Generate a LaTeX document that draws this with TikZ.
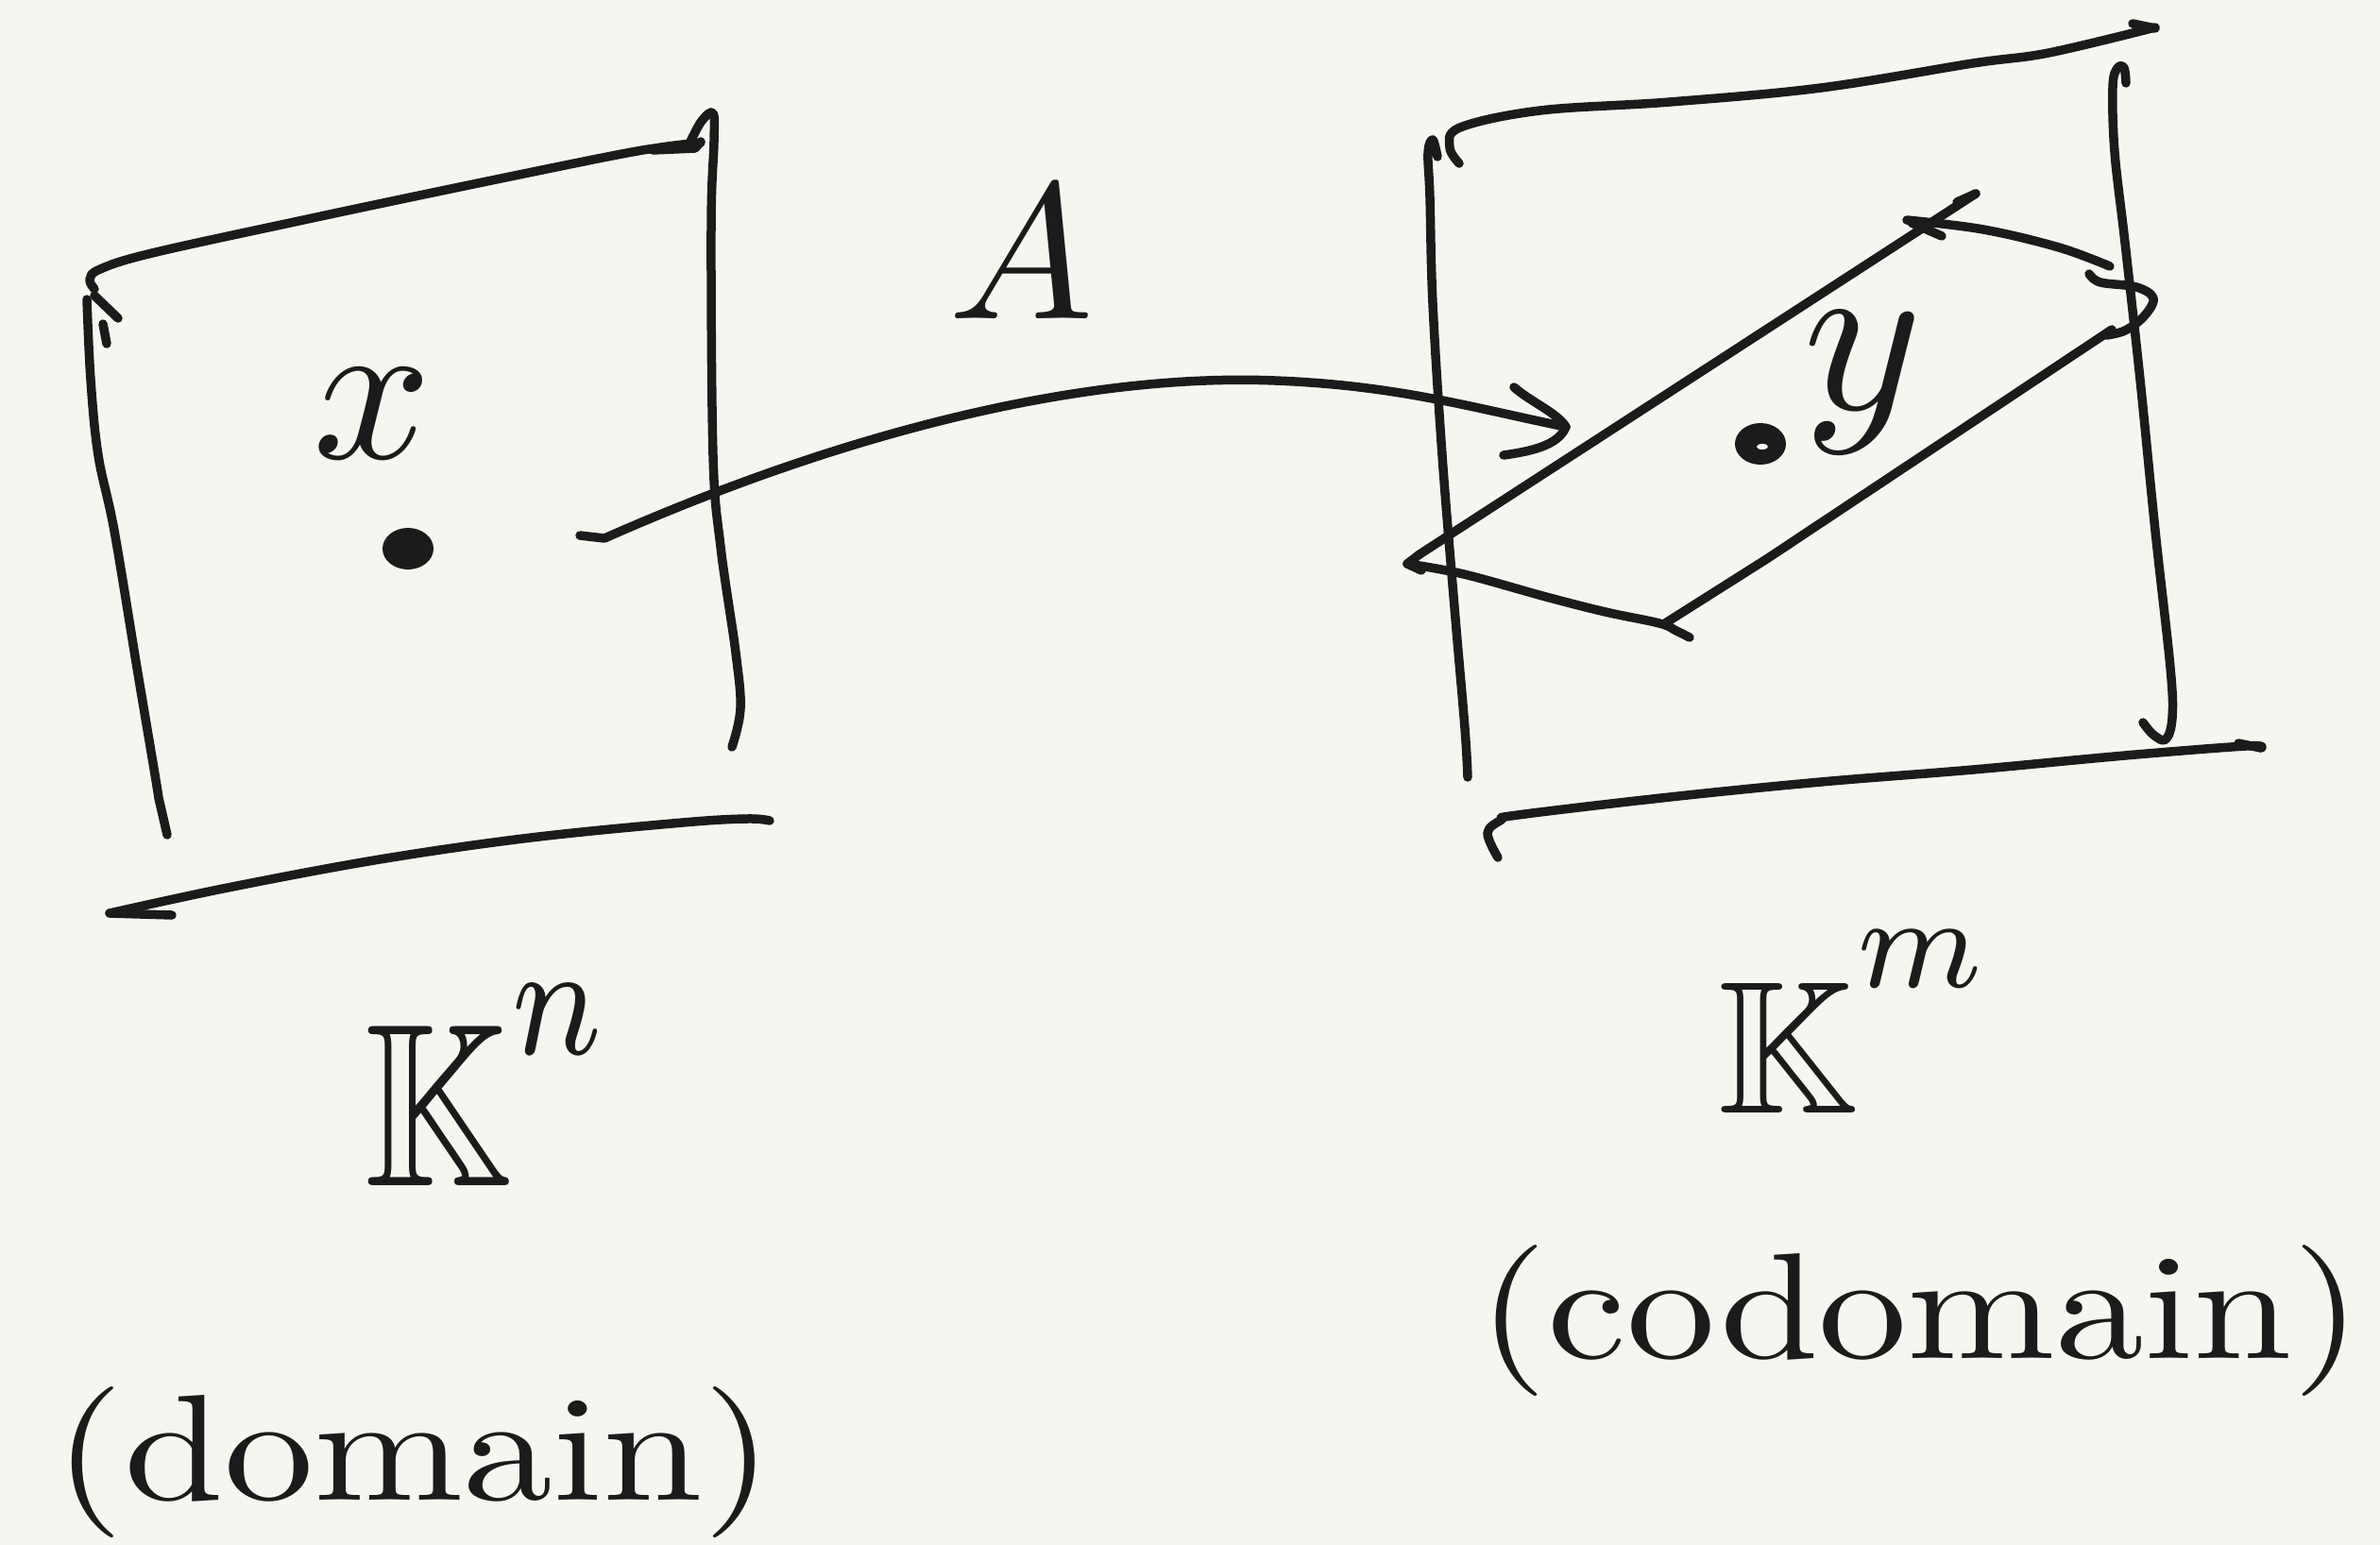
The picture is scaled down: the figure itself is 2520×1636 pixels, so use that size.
\documentclass[tikz,border=0pt]{standalone}
\usepackage{amssymb}
\usetikzlibrary{shapes.geometric}

\definecolor{ink}{HTML}{1B1B1B}
\definecolor{paper}{HTML}{F6F6F1}

\tikzset{
  pen/.style={draw=ink, line width=9.5pt, line cap=round, line join=round},
  hand/.style={inner sep=0pt, outer sep=0pt, text=ink},
  blob/.style={ellipse, fill=ink, inner sep=0pt, minimum width=54pt, minimum height=44pt},
}

\begin{document}
\begin{tikzpicture}[x=1pt, y=-1pt]
  % sheet
  \fill[paper] (0,0) rectangle (2520,1636);
  \useasboundingbox (0,0) rectangle (2520,1636);

  % ---------- domain box ----------
  % top edge
  \draw[pen] plot[smooth, tension=0.6] coordinates {(100,306) (95,296) (106,285) (161,268) (321,233) (482,199) (643,166) (700,156) (742,151)};
  \draw[pen] (691,159) -- (736,157) -- (742,150);
  % corner ticks
  \draw[pen] (100,313) -- (125,337);
  \draw[pen] (109,343) -- (113,364);
  % left edge
  \draw[pen] plot[smooth, tension=0.6] coordinates {(92,317) (96,402) (104,482) (121,562) (145,707) (164,820) (168,845)} -- (177,884);
  % right edge
  \draw[pen] plot[smooth, tension=0.6] coordinates {(731,150) (743,128) (755,120) (756,150) (753,241) (755,482) (763,579) (779,691) (784,750) (775,791)};
  % bottom edge
  \draw[pen] plot[smooth, tension=0.6] coordinates {(116,967) (241,940) (402,910) (562,887) (723,871) (791,867) (815,869)};
  \draw[pen] (116,967) -- (182,969);

  % point x
  \node[blob] (xpt) at (432,581) {};
  \node[hand, scale=22, anchor=base] (xlabel) at (394,485) {$x$};

  % ---------- codomain box ----------
  % top edge
  \draw[pen] plot[smooth, tension=0.6] coordinates {(1545,173) (1535,156) (1546,135) (1631,117) (1768,108) (1928,93) (2089,67) (2169,56) (2282,29)};
  \draw[pen] (2258,25) -- (2282,30);
  % left edge
  \draw[pen] plot[smooth, tension=0.6] coordinates {(1522,166) (1517,148) (1512,162) (1514,209) (1517,321) (1527,482) (1540,643) (1551,771) (1554,823)};
  % right edge
  \draw[pen] plot[smooth, tension=0.6] coordinates {(2251,88) (2249,72) (2242,72) (2237,92) (2239,161) (2250,257) (2266,402) (2282,562) (2298,707) (2300,760) (2293,783) (2280,778) (2269,765)};
  % bottom edge
  \draw[pen] plot[smooth, tension=0.6] coordinates {(1586,908) (1575,882) (1590,868) (1607,863) (1768,844) (1928,828) (2089,815) (2250,800) (2378,790) (2394,792)};
  \draw[pen] (2370,787) -- (2394,792);

  % ---------- image parallelogram ----------
  \draw[pen] (1503,587) -- (2092,205);
  \draw[pen] (2072,214) -- (2092,205);
  \draw[pen] plot[smooth, tension=0.6] coordinates {(2019,233) (2100,243) (2180,262) (2234,282)};
  \draw[pen] (2024,236) -- (2056,250);
  \draw[pen] plot[smooth, tension=0.6] coordinates {(2212,290) (2224,299) (2262,304) (2280,316) (2270,335) (2250,350) (2230,355)};
  \draw[pen] (2236,349) -- (1872,591) -- (1763,660);
  \draw[pen] plot[smooth, tension=0.6] coordinates {(1490,597) (1550,608) (1637,632) (1700,648) (1757,660) (1775,668) (1789,675)};
  \draw[pen] (1503,587) -- (1490,597) -- (1505,604);

  % point y
  \node[blob] (ypt) at (1864,470) {};
  \fill[paper] (1866,473) ellipse (6pt and 3pt);
  \node[hand, scale=24, anchor=base] (ylabel) at (1973,433) {$y$};

  % ---------- the map A ----------
  \coordinate (mapstart) at (614,567);
  \coordinate (mapend) at (1658,452);
  \draw[pen] (mapstart) -- (640,570) .. controls (900,455) and (1150,395) .. (1350,403) .. controls (1480,408) and (1560,432) .. (mapend);
  \draw[pen] (1603,410) .. controls (1620,425) and (1650,438) .. (mapend) .. controls (1650,472) and (1620,478) .. (1592,482);
  \node[hand, scale=20.5, anchor=base] (maplabel) at (1081,337) {$A$};

  % ---------- space labels ----------
  \node[hand, xscale=20, yscale=24.6, anchor=base west] (domspace) at (385,1255) {$\mathbb{K}^{\raisebox{2pt}{$\scriptstyle n$}}$};
  \node[hand, xscale=19, yscale=20, anchor=base west] (codspace) at (1818,1178) {$\mathbb{K}^{\raisebox{3pt}{$\scriptstyle m$}}$};

  \node[hand, xscale=19, yscale=16, anchor=base] (domword) at (438,1588) {(domain)};
  \node[hand, xscale=18.8, yscale=16, anchor=base] (codword) at (2033,1438) {(codomain)};
\end{tikzpicture}
\end{document}
